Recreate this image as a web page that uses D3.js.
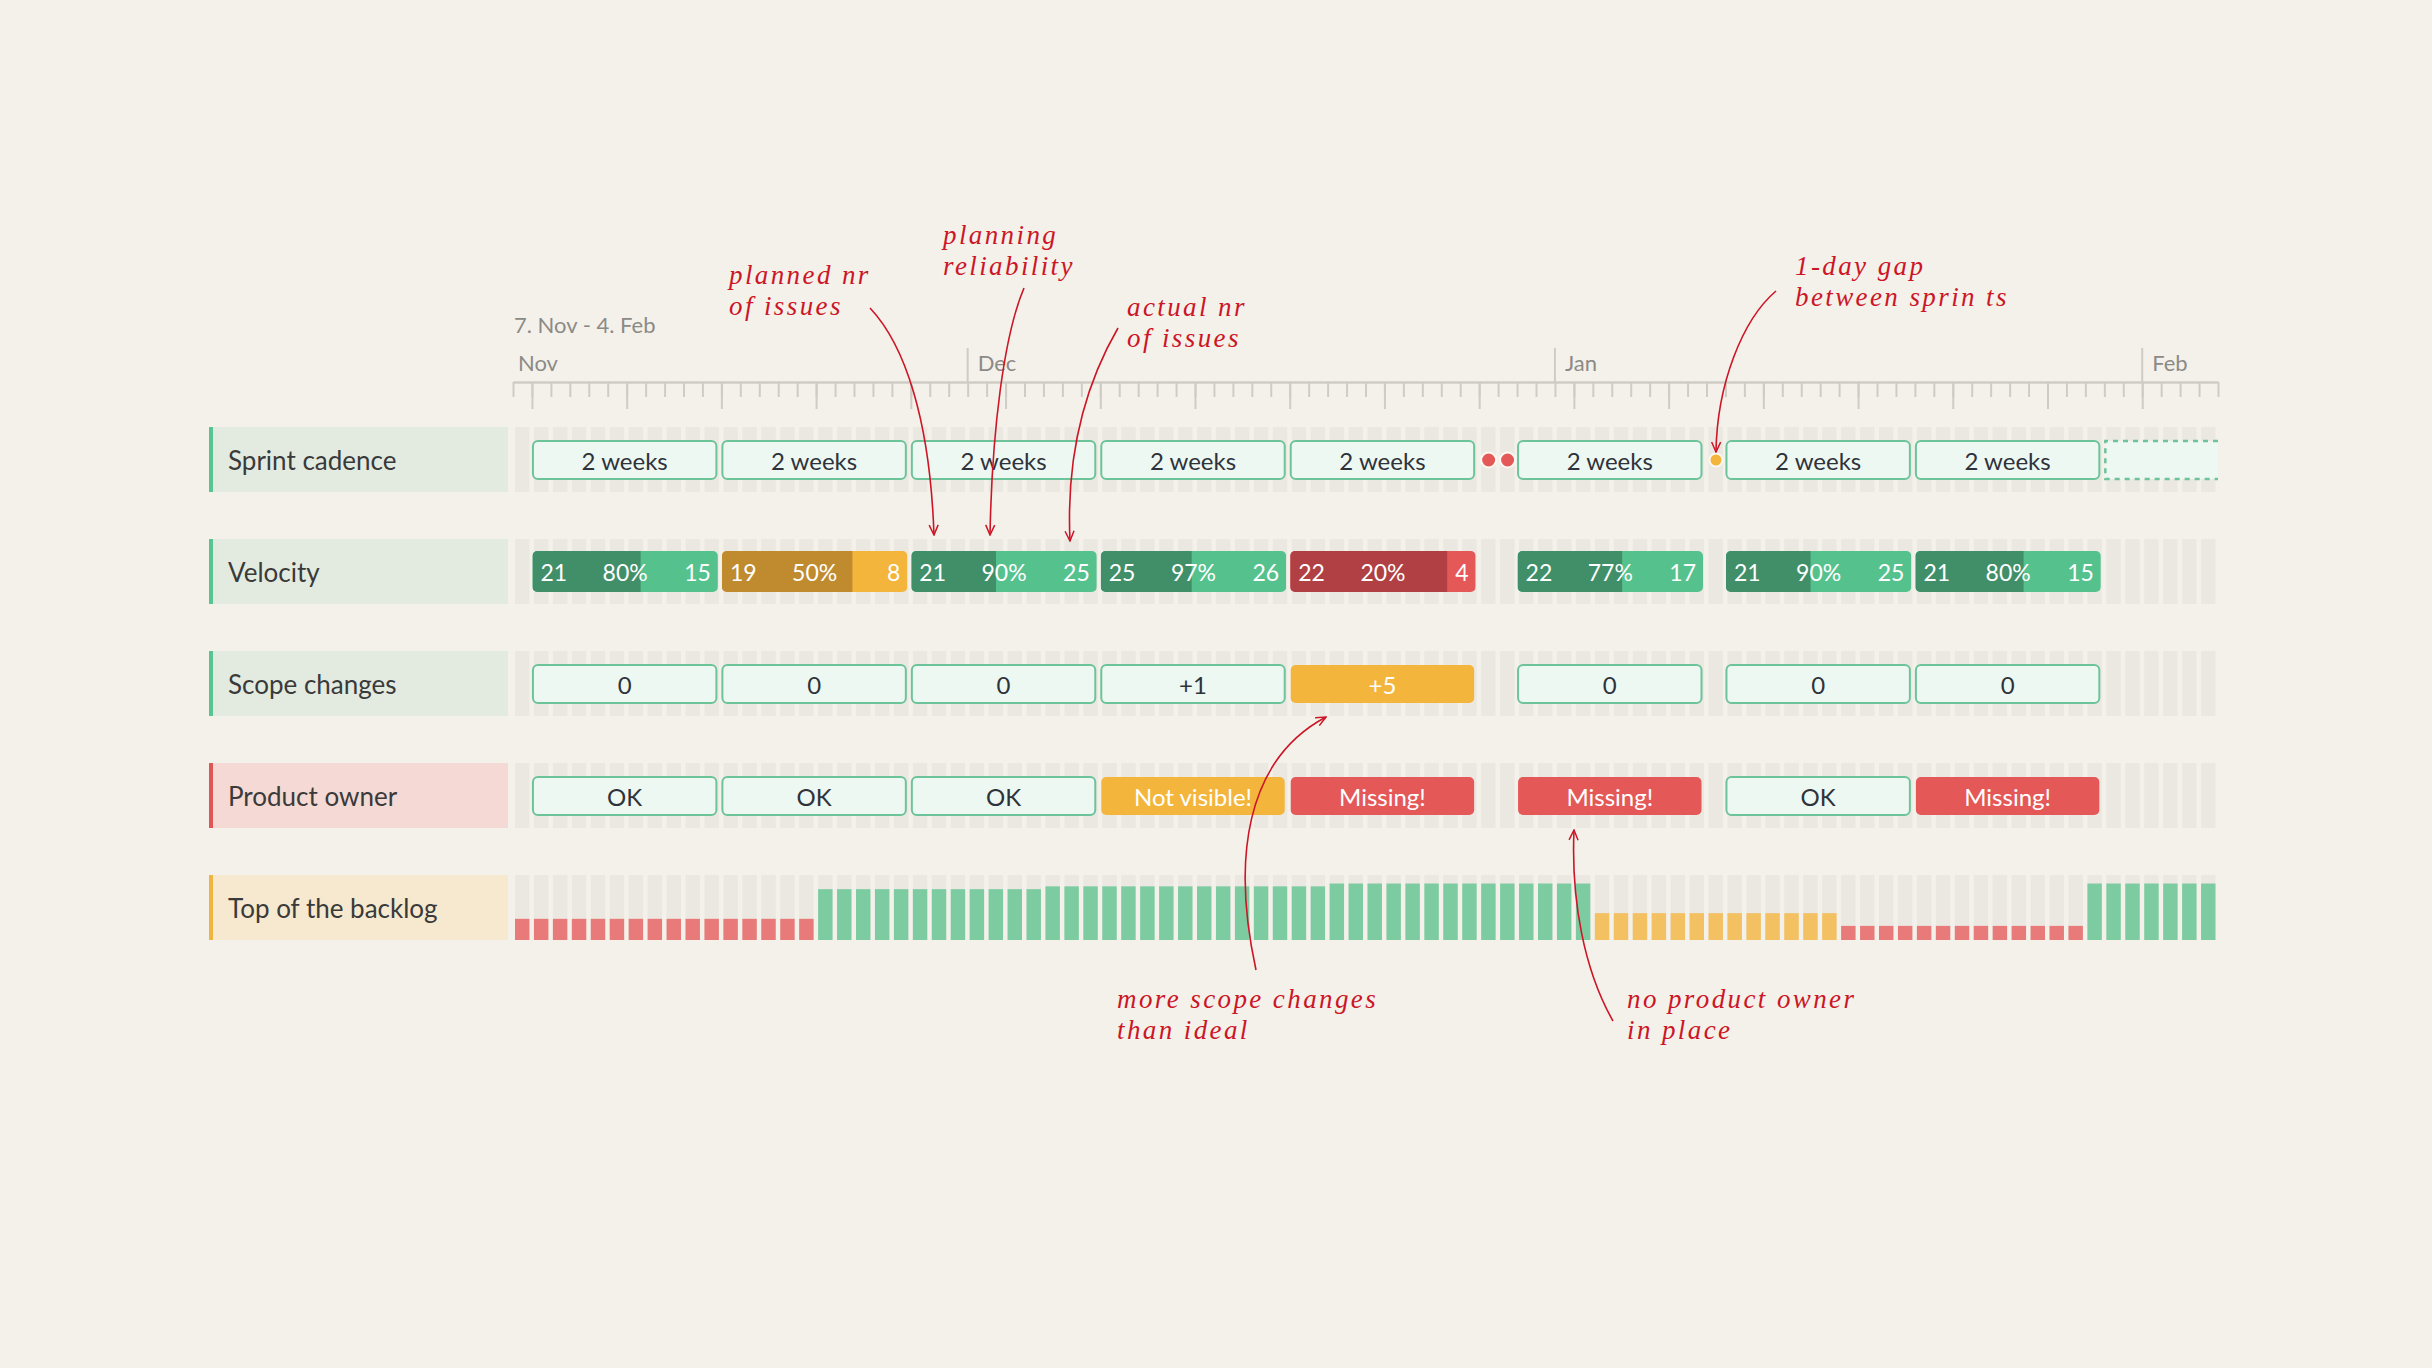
<!DOCTYPE html>
<html><head><meta charset="utf-8">
<script src="https://cdn.jsdelivr.net/npm/d3@7/dist/d3.min.js"></script>
<style>
html,body{margin:0;padding:0;background:#f4f1eb;}
svg{display:block;}
</style></head><body>
<svg id="chart" width="2432" height="1368"></svg>
<script>
// ---------------- DATA ----------------
const rowLabels = ["Sprint cadence", "Velocity", "Scope changes", "Product owner", "Top of the backlog"];
const periodLabel = "7. Nov - 4. Feb";
const monthLabels = ["Nov", "Dec", "Jan", "Feb"];
const monthStarts = ["2016-11-07", "2016-12-01", "2017-01-01", "2017-02-01"];
const sprintStarts = ["2016-11-08", "2016-11-18", "2016-11-28", "2016-12-08", "2016-12-18", "2016-12-30", "2017-01-10", "2017-01-20"];
const sprintEnds   = ["2016-11-18", "2016-11-28", "2016-12-08", "2016-12-18", "2016-12-28", "2017-01-09", "2017-01-20", "2017-01-30"];
const sprintCadence = ["2 weeks", "2 weeks", "2 weeks", "2 weeks", "2 weeks", "2 weeks", "2 weeks", "2 weeks"];
const plannedIssues = [21, 19, 21, 25, 22, 22, 21, 21];
const reliability   = [80, 50, 90, 97, 20, 77, 90, 80];
const actualIssues  = [15, 8, 25, 26, 4, 17, 25, 15];
const scopeChanges  = ["0", "0", "0", "+1", "+5", "0", "0", "0"];
const productOwner  = ["OK", "OK", "OK", "Not visible!", "Missing!", "Missing!", "OK", "Missing!"];
const gapDays       = ["2016-12-28", "2016-12-29", "2017-01-09"];
const gapSeverity   = ["long", "long", "short"];
const upcomingSprint = ["2017-01-30", "2017-02-05"];
// ready issues at the top of the backlog, one value per day (7 Nov .. 4 Feb)
const backlogReady = [
  7.5,7.5,7.5,7.5,7.5,7.5,7.5,7.5,7.5,7.5,7.5,7.5,7.5,7.5,7.5,7.5,
  18,18,18,18,18,18,18,18,18,18,18,18,
  19,19,19,19,19,19,19,19,19,19,19,19,19,19,19,
  20,20,20,20,20,20,20,20,20,20,20,20,20,20,
  9.5,9.5,9.5,9.5,9.5,9.5,9.5,9.5,9.5,9.5,9.5,9.5,9.5,
  5,5,5,5,5,5,5,5,5,5,5,5,5,
  20,20,20,20,20,20,20
];
const annotationTexts = [
  ["planned nr", "of issues"],
  ["planning", "reliability"],
  ["actual nr", "of issues"],
  ["1-day gap", "between sprin ts"],
  ["more scope changes", "than ideal"],
  ["no product owner", "in place"]
];

// ---------------- STYLE / LAYOUT ----------------
const C = {
  bg: "#f4f1eb", stripe: "#ebe8e2", axis: "#cfccc6", muted: "#8c8a86", text: "#2e333b",
  boxFill: "#eef8f2", boxStroke: "#6dc39a",
  greenDark: "#408f69", greenLight: "#55c28e",
  orangeDark: "#c08b2f", orangeLight: "#f3b53c",
  redDark: "#b04043", redLight: "#e55858",
  barRed: "#e87b79", barOrange: "#f3c062", barGreen: "#7dcca1",
  note: "#cc1626"
};
const labelStyle = [
  {band: "#e3ebe1", accent: "#58c491"},
  {band: "#e3ebe1", accent: "#58c491"},
  {band: "#e3ebe1", accent: "#58c491"},
  {band: "#f5d9d4", accent: "#e05656"},
  {band: "#f6e9d0", accent: "#f0b440"}
];
const FONT = "Lato, 'Open Sans', sans-serif";
const NOTE_FONT = "'Liberation Serif', serif";

const parse = d3.utcParse("%Y-%m-%d");
const t0 = parse("2016-11-07"), t1 = parse("2017-02-05");
const x = d3.scaleUtc().domain([t0, t1]).range([513, 2218]);
const days = d3.utcDay.range(t0, t1);
const dayW = x(d3.utcDay.offset(t0, 1)) - x(t0);
const y = d3.scaleBand().domain(rowLabels).range([427, 940]).paddingInner(0.42).paddingOuter(0);
const bh = y.bandwidth();

const svg = d3.select("#chart");
svg.append("rect").attr("width", 2432).attr("height", 1368).attr("fill", C.bg);

// ---------------- HEADER / AXIS ----------------
svg.append("text").attr("x", 514).attr("y", 333).text(periodLabel)
  .attr("font-family", FONT).attr("font-size", 22).attr("fill", C.muted);

const axisY = 382;
const boundaries = d3.utcDay.range(t0, d3.utcDay.offset(t1, 1));
const minorAxis = d3.axisBottom(x).tickValues(boundaries).tickSize(15).tickSizeOuter(0).tickFormat("");
const majorAxis = d3.axisBottom(x).tickValues(boundaries.filter((d, i) => i % 5 === 1)).tickSize(27).tickSizeOuter(0).tickFormat("");
const gMinor = svg.append("g").attr("transform", `translate(0,${axisY})`).call(minorAxis);
const gMajor = svg.append("g").attr("transform", `translate(0,${axisY})`).call(majorAxis);
[gMinor, gMajor].forEach(g => {
  g.selectAll("line").attr("stroke", C.axis).attr("stroke-width", 2);
  g.select(".domain").attr("stroke", C.axis).attr("stroke-width", 2.5);
});
gMajor.select(".domain").remove();

monthStarts.forEach((m, i) => {
  const mx = x(parse(m));
  if (i > 0) {
    svg.append("line").attr("x1", mx).attr("x2", mx).attr("y1", 348).attr("y2", axisY)
      .attr("stroke", C.axis).attr("stroke-width", 2);
  }
  svg.append("text").attr("x", i > 0 ? mx + 10 : mx + 5).attr("y", 371).text(monthLabels[i])
    .attr("font-family", FONT).attr("font-size", 22).attr("fill", C.muted);
});

// ---------------- ROW LABELS + DAY STRIPES ----------------
rowLabels.forEach((r, i) => {
  const top = y(r);
  svg.append("rect").attr("x", 213).attr("y", top).attr("width", 295).attr("height", bh).attr("fill", labelStyle[i].band);
  svg.append("rect").attr("x", 209).attr("y", top).attr("width", 4).attr("height", bh).attr("fill", labelStyle[i].accent);
  svg.append("text").attr("x", 228).attr("y", top + bh / 2 + 10.5).text(r)
    .attr("font-family", FONT).attr("font-size", 26).attr("fill", "#3a3a3a");
  svg.append("g").selectAll("rect").data(days).join("rect")
    .attr("x", d => x(d) + 2).attr("y", top).attr("width", dayW - 4.5).attr("height", bh)
    .attr("fill", C.stripe);
});

const sprints = sprintStarts.map((s, i) => ({
  s: parse(s), e: parse(sprintEnds[i]), cadence: sprintCadence[i],
  planned: plannedIssues[i], rel: reliability[i], actual: actualIssues[i],
  scope: scopeChanges[i], po: productOwner[i]
}));

function boxRow(rowName, getText, getKind) {
  const top = y(rowName) + 14;
  const g = svg.append("g");
  sprints.forEach(sp => {
    const kind = getKind(sp);
    const x0 = x(sp.s) + 1, w = x(sp.e) - x(sp.s) - 6;
    const fill = kind === "ok" ? C.boxFill : kind === "warn" ? C.orangeLight : C.redLight;
    g.append("rect").attr("x", x0).attr("y", top).attr("width", w).attr("height", 38).attr("rx", 5)
      .attr("fill", fill).attr("stroke", kind === "ok" ? C.boxStroke : "none").attr("stroke-width", 2);
    g.append("text").attr("x", x0 + w / 2).attr("y", top + 28.5).attr("text-anchor", "middle").text(getText(sp))
      .attr("font-family", FONT).attr("font-size", 24).attr("fill", kind === "ok" ? C.text : "#ffffff");
  });
  return top;
}

// ---------------- SPRINT CADENCE ----------------
const sTop = boxRow(rowLabels[0], d => d.cadence, () => "ok");
// gap dots
gapDays.forEach((d, i) => {
  svg.append("circle").attr("cx", x(parse(d)) + dayW / 2).attr("cy", sTop + 19)
    .attr("r", gapSeverity[i] === "long" ? 7.5 : 6.5)
    .attr("fill", gapSeverity[i] === "long" ? C.redLight : C.orangeLight)
    .attr("stroke", "#fbf8f3").attr("stroke-width", 2);
});
// upcoming sprint (dashed, open to the right)
{
  const ux = x(parse(upcomingSprint[0])) + 1, ue = x(parse(upcomingSprint[1]));
  svg.append("rect").attr("x", ux).attr("y", sTop).attr("width", ue - ux).attr("height", 38).attr("fill", C.boxFill);
  svg.append("path").attr("d", `M${ue},${sTop} H${ux} V${sTop + 38} H${ue}`)
    .attr("fill", "none").attr("stroke", C.boxStroke).attr("stroke-width", 2.5).attr("stroke-dasharray", "5,5");
}

// ---------------- VELOCITY ----------------
{
  const top = y(rowLabels[1]) + 12, h = 41;
  const defs = svg.append("defs");
  sprints.forEach((sp, i) => {
    const x0 = x(sp.s) + 0.5, x1 = x(sp.e) - 3.5;
    const split = d3.scaleLinear().domain([0, sp.planned + sp.actual]).range([x0, x1]);
    const status = sp.rel >= 70 ? "green" : sp.rel >= 40 ? "orange" : "red";
    const dark = C[status + "Dark"], light = C[status + "Light"];
    defs.append("clipPath").attr("id", "vclip" + i).append("rect")
      .attr("x", x0).attr("y", top).attr("width", x1 - x0).attr("height", h).attr("rx", 5);
    const g = svg.append("g").attr("clip-path", `url(#vclip${i})`);
    g.append("rect").attr("x", x0).attr("y", top).attr("width", x1 - x0).attr("height", h).attr("fill", light);
    g.append("rect").attr("x", x0).attr("y", top).attr("width", split(sp.planned) - x0).attr("height", h).attr("fill", dark);
    const ty = top + 29.5;
    const tx = svg.append("g").attr("font-family", FONT).attr("font-size", 23).attr("fill", "#ffffff");
    tx.append("text").attr("x", x0 + 8).attr("y", ty).text(sp.planned);
    tx.append("text").attr("x", (x0 + x1) / 2).attr("y", ty).attr("text-anchor", "middle").text(sp.rel + "%");
    tx.append("text").attr("x", x1 - 7).attr("y", ty).attr("text-anchor", "end").text(sp.actual);
  });
}

// ---------------- SCOPE CHANGES ----------------
boxRow(rowLabels[2], d => d.scope, d => Math.abs(+d.scope) >= 3 ? "warn" : "ok");

// ---------------- PRODUCT OWNER ----------------
boxRow(rowLabels[3], d => d.po, d => d.po === "OK" ? "ok" : d.po === "Missing!" ? "bad" : "warn");

// ---------------- TOP OF THE BACKLOG ----------------
{
  const top = y(rowLabels[4]);
  const hScale = d3.scaleLinear().domain([0, 23]).range([top + bh, top]);
  svg.append("g").selectAll("rect").data(days).join("rect")
    .attr("x", d => x(d) + 2).attr("width", dayW - 4.5)
    .attr("y", (d, i) => hScale(backlogReady[i]))
    .attr("height", (d, i) => top + bh - hScale(backlogReady[i]))
    .attr("fill", (d, i) => backlogReady[i] < 8 ? C.barRed : backlogReady[i] < 12 ? C.barOrange : C.barGreen);
}

// ---------------- ANNOTATIONS ----------------
const defs2 = svg.append("defs");
defs2.append("marker").attr("id", "arrow").attr("viewBox", "0 0 12 12").attr("refX", 11).attr("refY", 6)
  .attr("markerWidth", 12).attr("markerHeight", 12).attr("markerUnits", "userSpaceOnUse").attr("orient", "auto")
  .append("path").attr("d", "M1,1.5 L11,6 L1,10.5").attr("fill", "none").attr("stroke", C.note).attr("stroke-width", 1.5);

const noteLayout = [
  {x: 729, y: 284, path: "M870,308 C905,345 930,420 934,535"},
  {x: 943, y: 244, path: "M1024,288 C1004,335 992,430 990,535"},
  {x: 1127, y: 316, path: "M1118,328 C1085,385 1066,455 1070,541"},
  {x: 1795, y: 275, path: "M1776,291 C1742,320 1717,385 1716,452"},
  {x: 1117, y: 1008, path: "M1256,970 C1232,860 1245,760 1326,717"},
  {x: 1627, y: 1008, path: "M1613,1021 C1584,970 1571,900 1574,830"}
];
annotationTexts.forEach((lines, i) => {
  const L = noteLayout[i];
  lines.forEach((ln, j) => {
    svg.append("text").attr("x", L.x).attr("y", L.y + j * 31).text(ln)
      .attr("font-family", NOTE_FONT).attr("font-style", "italic")
      .attr("font-size", 27).attr("letter-spacing", 2.4).attr("fill", C.note);
  });
  svg.append("path").attr("d", L.path).attr("fill", "none").attr("stroke", C.note)
    .attr("stroke-width", 1.6).attr("marker-end", "url(#arrow)");
});
</script>
</body></html>
